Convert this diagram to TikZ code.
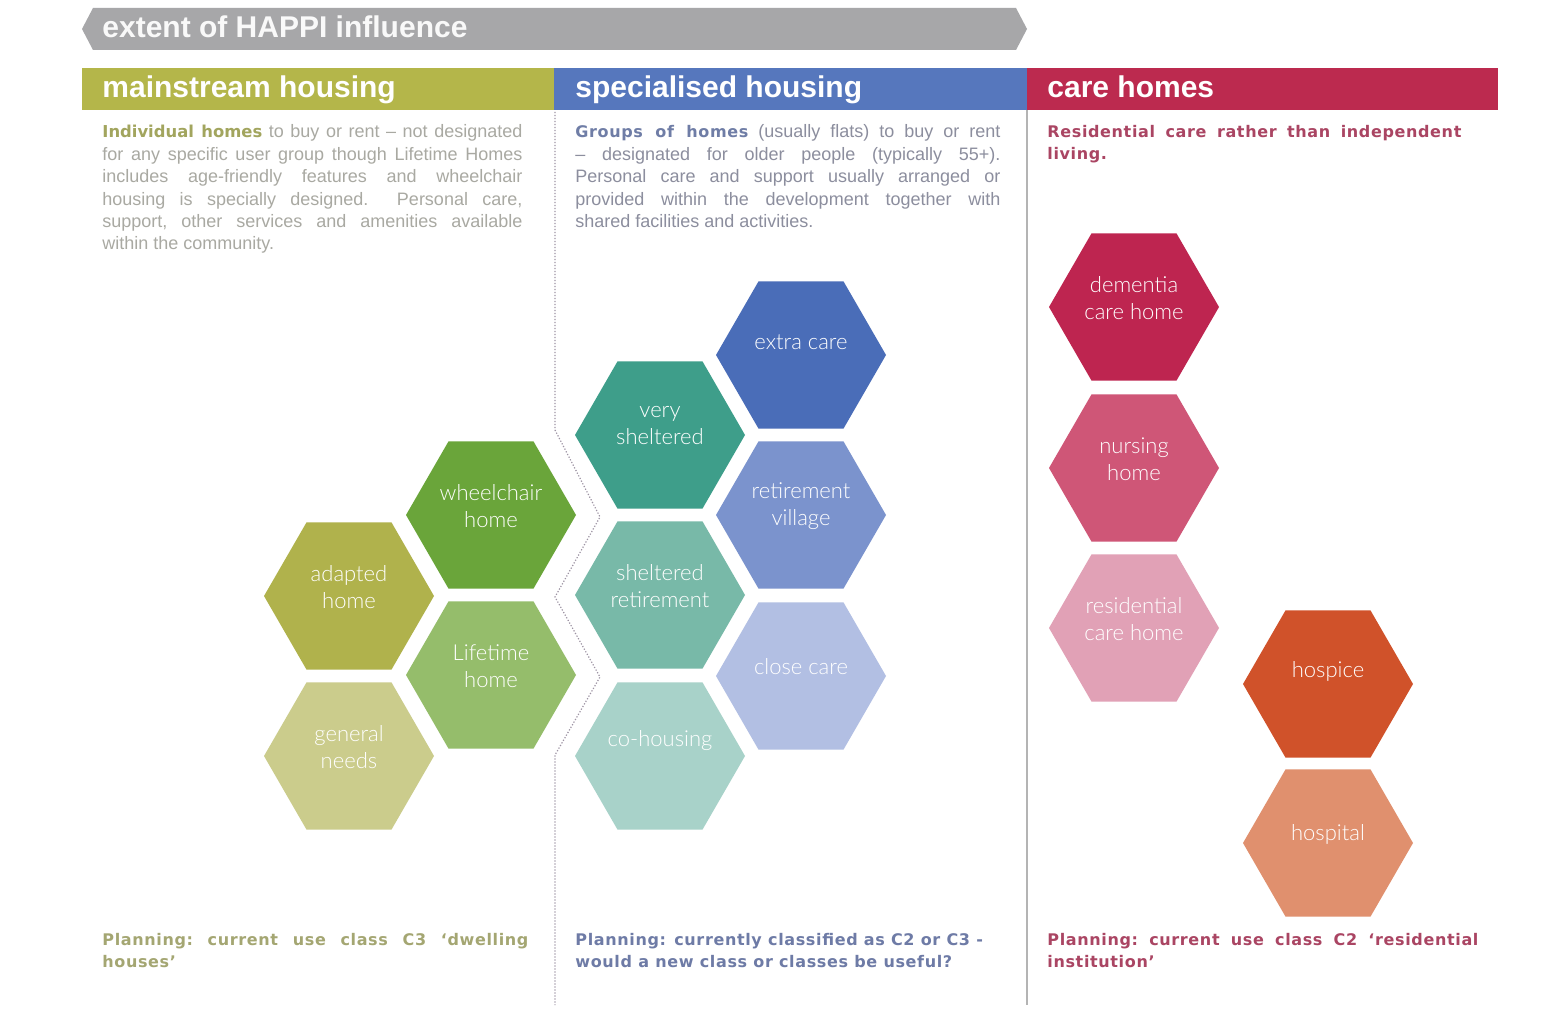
\documentclass[tikz,border=0pt]{standalone}
\usepackage{fontspec}
\setmainfont{Liberation Sans}
\newfontfamily\hexfont{Lato Light}
\newfontfamily\widebold[LetterSpace=4]{DejaVu Sans Bold}
\newfontfamily\plainbold{DejaVu Sans Bold}
\usetikzlibrary{shapes.geometric}
\definecolor{bannerGray}{HTML}{A7A7A9}
\definecolor{hdrOlive}{HTML}{B4B64A}
\definecolor{hdrBlue}{HTML}{5677BD}
\definecolor{hdrCrimson}{HTML}{BC2A4F}
\definecolor{mText}{HTML}{A9A9A2}
\definecolor{mBold}{HTML}{A2A55E}
\definecolor{mPlan}{HTML}{A4A672}
\definecolor{sText}{HTML}{8C8E9E}
\definecolor{sBold}{HTML}{6F7DA6}
\definecolor{sPlan}{HTML}{6E7BA6}
\definecolor{cText}{HTML}{AA4563}
\definecolor{dotGray}{HTML}{9D93A3}
\definecolor{lineGray}{HTML}{B4B4B4}
\definecolor{cWheel}{HTML}{6AA53A}
\definecolor{cAdapted}{HTML}{B0B24C}
\definecolor{cLifetime}{HTML}{95BD6B}
\definecolor{cGeneral}{HTML}{CBCC8C}
\definecolor{cVerySh}{HTML}{3E9E8A}
\definecolor{cExtra}{HTML}{4A6DB8}
\definecolor{cRetV}{HTML}{7B93CD}
\definecolor{cShRet}{HTML}{78B9A8}
\definecolor{cClose}{HTML}{B2BFE3}
\definecolor{cCoHous}{HTML}{A8D2C9}
\definecolor{cDementia}{HTML}{BE2550}
\definecolor{cNursing}{HTML}{CF5677}
\definecolor{cResid}{HTML}{E1A1B6}
\definecolor{cHospice}{HTML}{D0522A}
\definecolor{cHospital}{HTML}{E0906E}
\newcommand{\jl}[1]{\makebox[\hsize][s]{\frenchspacing\spaceskip=0pt\xspaceskip=0pt #1}\\}
\begin{document}
\begin{tikzpicture}[x=0.5pt,y=-0.5pt,
  hexs/.style={regular polygon, regular polygon sides=6, minimum size=85pt, inner sep=0pt, draw=none},
  hexlab/.style={text=white, font=\hexfont\fontsize{11}{13.5}\selectfont, align=center, yshift=4.5pt},
  hdr/.style={anchor=base west, inner sep=0pt, text=white, font=\bfseries\fontsize{15}{18}\selectfont},
  body/.style={anchor=base west, inner sep=0pt, text width=#1, align=justify, font=\fontsize{9}{11.2}\selectfont},
  plan/.style={anchor=base west, inner sep=0pt, text width=#1, align=justify, font=\widebold\fontsize{8}{11}\selectfont},
  dotline/.style={draw=dotGray, line width=0.6pt, dash pattern=on 0.6pt off 0.9pt}]
\useasboundingbox (0,0) rectangle (1542,1026);
\fill[white] (0,0) rectangle (1542,1026);
% banner
\fill[bannerGray] (82,29) -- (93,8) -- (1016,8) -- (1027,29) -- (1016,50) -- (93,50) -- cycle;
\node[hdr, text=white!95!gray] (banner) at (102,38) {extent of HAPPI influence};
% header bars
\fill[hdrOlive] (82,68) rectangle (554,110);
\fill[hdrBlue] (554,68) rectangle (1027,110);
\fill[hdrCrimson] (1027,68) rectangle (1498,110);
\node[hdr] (hmain) at (102,98) {mainstream housing};
\node[hdr] (hspec) at (575,98) {specialised housing};
\node[hdr] (hcare) at (1047,98) {care homes};
% separators
\draw[dotline] (555,112) -- (555,430) -- (600,517) -- (555,597) -- (600,677) -- (555,755) -- (555,1005);
\draw[lineGray, line width=0.75pt] (1027,110) -- (1027,1005);
% descriptions
\node[body=210pt, text=mText] (mdesc) at (102,138) {%
\jl{{\plainbold\fontsize{8.2}{11.2}\selectfont\color{mBold}Individual homes} to buy or rent – not designated}%
\jl{for any specific user group though Lifetime Homes}%
\jl{includes age-friendly features and wheelchair}%
\jl{housing is specially designed.\ \ Personal care,}%
\jl{support, other services and amenities available}%
within the community.};
\node[body=212.5pt, text=sText] (sdesc) at (575,138) {%
\jl{{\widebold\fontsize{8}{11.2}\selectfont\color{sBold}Groups of homes} (usually flats) to buy or rent}%
\jl{– designated for older people (typically 55+).}%
\jl{Personal care and support usually arranged or}%
\jl{provided within the development together with}%
shared facilities and activities.};
\node[plan=207pt, text=cText] (cdesc) at (1047,138) {%
\jl{Residential care rather than independent}%
living.};
% mainstream hexagons
\node[hexs, fill=cWheel, label={[hexlab]center:wheelchair\\home}] (wheel) at (491,515) {};
\node[hexs, fill=cAdapted, label={[hexlab]center:adapted\\home}] (adapted) at (349,596) {};
\node[hexs, fill=cLifetime, label={[hexlab]center:Lifetime\\home}] (lifetime) at (491,675) {};
\node[hexs, fill=cGeneral, label={[hexlab]center:general\\needs}] (general) at (349,756) {};
% specialised hexagons
\node[hexs, fill=cExtra, label={[hexlab, yshift=2pt]center:extra care}] (extra) at (801,355) {};
\node[hexs, fill=cVerySh, label={[hexlab]center:very\\sheltered}] (verysh) at (660,435) {};
\node[hexs, fill=cRetV, label={[hexlab]center:retirement\\village}] (retv) at (801,515) {};
\node[hexs, fill=cShRet, label={[hexlab]center:sheltered\\retirement}] (shret) at (660,595) {};
\node[hexs, fill=cClose, label={[hexlab]center:close care}] (close) at (801,676) {};
\node[hexs, fill=cCoHous, label={[hexlab, yshift=3pt]center:co-housing}] (cohous) at (660,756) {};
% care home hexagons
\node[hexs, fill=cDementia, label={[hexlab]center:dementia\\care home}] (dementia) at (1134,307) {};
\node[hexs, fill=cNursing, label={[hexlab]center:nursing\\home}] (nursing) at (1134,468) {};
\node[hexs, fill=cResid, label={[hexlab]center:residential\\care home}] (resid) at (1134,628) {};
\node[hexs, fill=cHospice, label={[hexlab, yshift=2pt]center:hospice}] (hospice) at (1328,684) {};
\node[hexs, fill=cHospital, label={[hexlab]center:hospital}] (hospital) at (1328,843) {};
% planning notes
\node[plan=213pt, text=mPlan] (mplan) at (102,945) {%
\jl{Planning: current use class C3 ‘dwelling}%
houses’};
\node[plan=230pt, text=sPlan] (splan) at (575,945) {Planning: currently classified as C2 or C3 -\\would a new class or classes be useful?};
\node[plan=215.5pt, text=cText] (cplan) at (1047,945) {%
\jl{Planning: current use class C2 ‘residential}%
institution’};
\end{tikzpicture}
\end{document}
